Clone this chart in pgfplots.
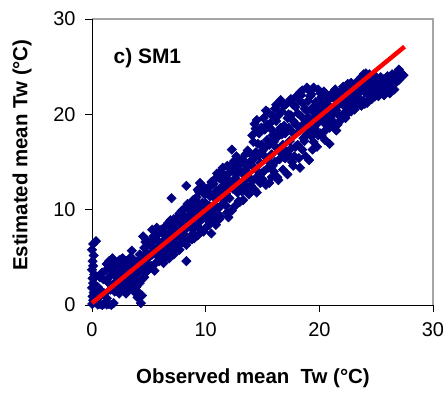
\documentclass[border=0pt]{standalone}
\usepackage{fontspec}
\setmainfont{Liberation Sans}
\usepackage{pgfplots}
\pgfplotsset{compat=1.18}
\definecolor{navyc}{RGB}{0,0,128}
\begin{document}
\begin{tikzpicture}
\begin{axis}[name=ax, set layers,
  scale only axis, width=341bp, height=286bp,
  xmin=0, xmax=30, ymin=0, ymax=30,
  xtick={0,10,20,30}, ytick={0,10,20,30},
  xtick pos=bottom, ytick pos=left,
  tick align=outside, major tick length=7bp,
  tick style={black, line width=0.8pt},
  axis line style={draw=none},
  /pgf/number format/assume math mode=true,
  ticklabel style={font=\fontsize{20}{22}\selectfont},
  xticklabel style={yshift=-7bp},
  yticklabel style={xshift=-6bp},
  xlabel={\bfseries Observed mean\ \ Tw (°C)},
  ylabel={\bfseries Estimated mean Tw (°C)},
  label style={font=\fontsize{20.5}{22}\selectfont},
  xlabel style={at={(axis description cs:0.472,-0.255)}, anchor=center},
  ylabel style={at={(axis description cs:-0.205,0.524)}, anchor=center},
  clip=false,
]
\addplot[only marks, mark=square*, mark size=3.3pt, mark options={rotate=45, draw=navyc, fill=navyc, line width=0.6pt}] coordinates {
(0.02,0.1)(0.1,0.5)(0.05,0.9)(0.15,1.3)(0.0,1.8)(0.1,2.3)(0.05,2.8)(0.2,3.2)(0.0,3.7)(0.1,4.1)(0.05,4.6)(0.15,5.2)(0.0,5.8)(0.1,6.4)(0.35,6.7)(0.25,1.0)(0.3,2.0)(0.2,0.3)(0.35,3.0)
(0.5,0.05)(0.7,0.1)(0.9,0.0)(1.1,0.15)(1.3,0.05)(1.5,0.1)(1.7,0.0)(1.9,0.2)(0.6,0.8)(0.8,1.5)(0.5,1.9)(1.0,2.7)(0.7,2.9)(1.2,3.6)(1.3,4.3)(1.5,4.6)(1.7,3.9)(1.8,4.9)(1.4,2.4)(1.6,3.0)(1.9,3.4)(1.1,1.2)(1.6,1.6)(1.9,2.2)(1.3,0.7)(0.9,3.4)
(2.0,4.4)(2.1,3.6)(2.2,2.9)(2.3,4.0)(2.4,4.7)(2.5,3.3)(2.6,2.4)(2.7,4.2)(2.8,3.8)(2.9,1.6)(2.2,1.9)(2.4,1.2)(2.6,4.8)(2.8,2.7)(2.1,2.3)(2.5,1.8)(2.9,3.1)(2.3,3.4)(2.7,4.9)(2.0,1.4)
(3.0,4.6)(3.1,3.9)(3.2,2.6)(3.3,4.3)(3.4,3.5)(3.5,2.2)(3.6,4.8)(3.7,3.0)(3.8,4.1)(3.9,1.9)(3.2,1.6)(3.4,5.0)(3.6,3.7)(3.8,2.6)(3.1,2.1)(3.5,5.7)(3.9,4.5)(3.3,3.1)(3.7,1.4)(3.0,1.2)
(4.0,0.8)(4.1,1.3)(4.3,0.2)(4.4,1.0)(4.0,3.3)(4.1,4.6)(4.2,5.3)(4.3,3.9)(4.4,2.7)(4.5,4.9)(4.6,6.0)(4.7,3.4)(4.8,5.5)(4.9,4.2)(4.2,2.3)(4.5,7.2)(4.7,6.6)(4.9,3.6)(4.6,2.9)(4.8,6.8)(4.4,4.4)
(5.0,5.0)(5.1,6.3)(5.2,4.1)(5.3,7.9)(5.4,5.6)(5.5,3.6)(5.6,6.9)(5.7,5.2)(5.8,7.4)(5.9,4.6)(5.2,6.6)(5.4,7.2)(5.6,4.4)(5.8,6.0)(5.1,3.9)(5.5,5.9)(5.9,7.7)(5.3,5.3)(5.7,8.1)(5.9,5.7)
(6.0,6.4)(6.1,5.1)(6.2,7.6)(6.3,4.4)(6.4,6.9)(6.5,8.3)(6.6,5.7)(6.7,7.2)(6.8,4.9)(6.9,6.3)(6.1,7.9)(6.3,6.0)(6.5,5.0)(6.7,8.6)(6.9,7.7)(6.2,5.5)(6.4,7.4)(6.6,6.6)(6.8,5.9)(6.0,4.7)(6.9,8.9)
(7.0,11.2)(7.1,7.0)(7.2,5.3)(7.3,8.6)(7.4,6.4)(7.5,9.2)(7.6,7.7)(7.7,5.8)(7.8,8.9)(7.9,6.9)(7.1,8.1)(7.3,6.0)(7.5,7.3)(7.7,9.6)(7.9,8.3)(7.2,9.0)(7.4,7.8)(7.6,6.2)(7.8,7.1)(7.0,5.6)(7.9,9.9)
(8.0,9.5)(8.1,7.4)(8.2,10.2)(8.3,12.5)(8.3,4.6)(8.4,8.7)(8.5,6.8)(8.6,9.9)(8.7,8.1)(8.8,10.6)(8.9,7.5)(8.1,8.8)(8.3,6.3)(8.5,9.3)(8.7,7.0)(8.9,9.2)(8.2,7.9)(8.4,10.6)(8.6,8.4)(8.8,6.9)(8.0,6.6)(8.9,11.0)
(9.0,10.1)(9.1,8.2)(9.2,11.3)(9.3,7.3)(9.4,9.6)(9.5,12.8)(9.6,8.9)(9.7,10.7)(9.8,7.7)(9.9,11.6)(9.1,9.6)(9.3,10.8)(9.5,8.0)(9.7,9.4)(9.9,10.0)(9.2,8.6)(9.4,11.9)(9.6,10.3)(9.8,9.1)(9.0,7.0)(9.9,12.3)(9.3,12.1)
(10.0,10.7)(10.1,9.0)(10.2,12.2)(10.3,8.4)(10.4,11.4)(10.5,7.5)(10.6,10.0)(10.7,12.7)(10.8,9.4)(10.9,11.1)(10.1,11.8)(10.3,10.4)(10.5,12.9)(10.7,8.8)(10.9,10.4)(10.2,9.7)(10.4,12.5)(10.6,11.6)(10.8,13.2)(10.0,8.1)(10.9,8.4)(10.4,9.5)
(11.0,12.0)(11.1,10.1)(11.2,13.3)(11.3,9.3)(11.4,12.4)(11.5,14.4)(11.6,11.0)(11.7,13.6)(11.8,10.4)(11.9,12.3)(11.1,11.6)(11.3,14.0)(11.5,10.6)(11.7,12.9)(11.9,14.6)(11.2,9.0)(11.4,11.2)(11.6,13.0)(11.8,11.7)(11.0,13.8)(11.9,9.7)(11.5,12.1)
(12.0,13.1)(12.1,11.2)(12.2,14.6)(12.3,16.3)(12.4,12.2)(12.5,15.1)(12.6,10.4)(12.7,13.7)(12.8,11.8)(12.9,14.9)(12.1,13.9)(12.3,9.9)(12.5,12.8)(12.7,15.6)(12.9,12.6)(12.2,12.6)(12.4,14.1)(12.6,13.3)(12.8,15.4)(12.0,9.2)(12.9,10.9)(12.6,14.4)
(13.0,14.0)(13.1,12.1)(13.2,15.3)(13.3,11.0)(13.4,13.6)(13.5,15.8)(13.6,12.5)(13.7,14.6)(13.8,11.6)(13.9,15.9)(13.1,14.8)(13.3,13.0)(13.5,14.2)(13.7,16.2)(13.9,13.3)(13.2,11.9)(13.4,15.0)(13.6,13.9)(13.8,14.9)(13.0,10.8)(13.9,12.4)(13.5,12.0)
(14.0,15.1)(14.1,13.0)(14.2,17.1)(14.3,12.1)(14.4,16.0)(14.5,19.4)(14.6,14.0)(14.7,18.0)(14.8,12.8)(14.9,16.8)(14.1,17.8)(14.3,15.4)(14.5,13.4)(14.7,15.7)(14.9,18.6)(14.2,14.5)(14.4,18.5)(14.6,16.9)(14.8,14.9)(14.0,12.5)(14.9,13.8)(14.5,11.8)(14.3,19.0)
(15.0,16.2)(15.1,14.0)(15.2,18.4)(15.3,12.6)(15.4,17.3)(15.5,20.2)(15.6,15.0)(15.7,19.1)(15.8,13.4)(15.9,17.8)(15.1,19.6)(15.3,16.6)(15.5,14.4)(15.7,17.0)(15.9,19.8)(15.2,15.6)(15.4,18.9)(15.6,16.8)(15.8,15.8)(15.0,13.2)(15.9,14.6)(15.6,12.8)(15.3,20.4)(15.8,18.4)
(16.0,17.1)(16.1,15.0)(16.2,19.3)(16.3,13.4)(16.4,18.2)(16.5,21.2)(16.6,16.0)(16.7,20.3)(16.8,14.2)(16.9,18.8)(16.1,20.6)(16.3,17.6)(16.5,15.3)(16.7,17.9)(16.9,20.9)(16.2,16.5)(16.4,19.9)(16.6,18.6)(16.8,16.8)(16.0,14.0)(16.9,15.5)(16.4,13.1)(16.6,21.5)(16.2,21.0)
(17.0,18.0)(17.1,16.1)(17.2,13.7)(17.3,20.0)(17.4,17.2)(17.5,21.6)(17.6,15.0)(17.7,19.3)(17.8,17.9)(17.9,20.8)(17.1,21.1)(17.3,18.6)(17.5,16.4)(17.7,14.6)(17.9,16.6)(17.2,19.6)(17.4,21.4)(17.6,18.2)(17.8,15.6)(17.0,15.4)(17.9,19.0)(17.5,19.9)(17.3,15.7)(17.7,21.0)
(18.0,18.9)(18.1,16.8)(18.2,21.5)(18.3,14.4)(18.4,19.8)(18.5,22.5)(18.6,17.5)(18.7,20.6)(18.8,15.6)(18.9,22.8)(18.1,20.1)(18.3,18.3)(18.5,16.3)(18.7,19.1)(18.9,17.9)(18.2,15.4)(18.4,22.0)(18.6,21.1)(18.8,19.4)(18.0,21.9)(18.9,20.4)(18.5,18.7)(18.3,22.3)(18.7,17.2)
(19.0,19.7)(19.1,15.2)(19.2,21.9)(19.3,17.7)(19.4,20.7)(19.5,22.8)(19.6,18.5)(19.7,21.3)(19.8,16.6)(19.9,20.1)(19.1,22.5)(19.3,19.2)(19.5,17.1)(19.7,19.8)(19.9,22.6)(19.2,18.4)(19.4,16.3)(19.6,20.8)(19.8,19.0)(19.0,21.4)(19.9,17.8)(19.5,20.2)(19.3,22.1)(19.7,18.1)
(20.0,20.4)(20.1,18.0)(20.2,21.8)(20.3,19.3)(20.4,22.4)(20.5,17.3)(20.6,20.9)(20.7,19.7)(20.8,21.5)(20.9,18.6)(20.1,22.2)(20.3,20.6)(20.5,19.0)(20.7,22.0)(20.9,20.3)(20.2,17.8)(20.4,19.9)(20.6,18.4)(20.8,20.0)(20.0,21.3)(20.9,16.9)(20.5,21.1)
(21.0,20.7)(21.1,19.4)(21.2,22.3)(21.3,20.1)(21.4,21.6)(21.5,18.3)(21.6,20.9)(21.7,22.0)(21.8,19.8)(21.9,21.3)(21.1,21.8)(21.3,19.0)(21.5,20.4)(21.7,21.0)(21.9,19.4)(21.2,20.5)(21.4,22.6)(21.6,18.9)(21.8,21.7)(21.0,19.0)(21.9,22.4)
(22.0,21.1)(22.1,20.0)(22.2,22.6)(22.3,19.6)(22.4,21.9)(22.5,23.2)(22.6,20.8)(22.7,22.3)(22.8,20.3)(22.9,21.6)(22.1,22.9)(22.3,21.4)(22.5,20.1)(22.7,21.0)(22.9,22.8)(22.2,20.9)(22.4,20.4)(22.6,22.0)(22.8,23.3)(22.0,22.4)(22.9,20.6)
(23.0,21.8)(23.1,20.5)(23.2,23.0)(23.3,22.1)(23.4,21.1)(23.5,23.6)(23.6,22.5)(23.7,20.9)(23.8,22.8)(23.9,24.2)(23.1,22.6)(23.3,23.4)(23.5,21.7)(23.7,23.9)(23.9,21.4)(23.2,21.4)(23.4,22.9)(23.6,21.0)(23.8,23.3)(23.0,23.1)
(24.0,22.3)(24.1,24.3)(24.2,21.2)(24.3,23.1)(24.4,22.0)(24.5,23.8)(24.6,21.6)(24.7,22.8)(24.8,23.5)(24.9,21.9)(24.1,22.9)(24.3,21.5)(24.5,22.5)(24.7,24.0)(24.9,23.0)(24.2,23.6)(24.4,24.2)(24.6,23.3)(24.8,22.3)(24.0,21.1)
(25.0,22.6)(25.1,23.7)(25.2,21.9)(25.3,22.9)(25.4,23.9)(25.5,22.3)(25.6,23.4)(25.7,22.0)(25.8,23.1)(25.9,23.8)(25.1,22.2)(25.3,23.5)(25.5,23.0)(25.7,23.7)(25.9,22.6)(25.2,23.2)(25.6,22.7)(25.0,23.9)
(26.0,23.1)(26.1,22.4)(26.2,23.8)(26.3,22.9)(26.4,23.5)(26.6,22.6)(26.8,23.4)(26.9,24.5)(27.0,24.7)(27.1,24.0)(27.2,24.3)(27.4,24.1)(26.5,24.0)(26.7,23.9)(26.2,22.2)(26.0,24.0)(27.0,23.6)(26.4,24.2)
};
\addplot[red, line width=4.5pt, on layer=axis foreground] coordinates {(0,0.2) (27.5,27.1)};
\node[anchor=west, font=\bfseries\fontsize{21}{24}\selectfont] at (axis cs:1.6,25.9) {c) SM1};
\draw[gray!70, line width=1.5pt] (rel axis cs:0,1) -- (rel axis cs:1,1) -- (rel axis cs:1,0);
\draw[black, line width=0.9pt] (rel axis cs:0,1) -- (rel axis cs:0,0) -- (rel axis cs:1,0);
\end{axis}
\pgfresetboundingbox
\useasboundingbox (ax.south west) ++(-92bp,-89bp) rectangle ++(448bp,394bp);
\end{tikzpicture}
\end{document}
